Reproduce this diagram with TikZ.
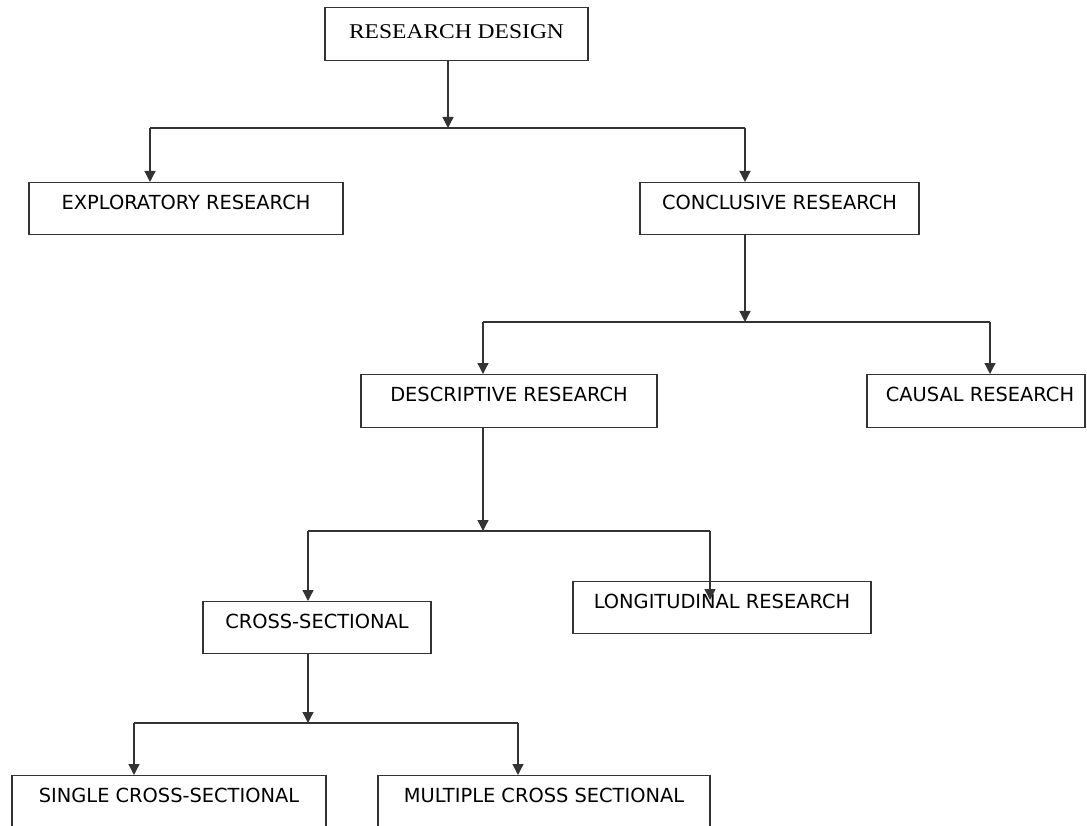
\documentclass[tikz,border=0pt]{standalone}
\usepackage{fontspec}
\usetikzlibrary{arrows.meta,calc}
\newfontfamily\vfont{DejaVu Sans}
\newfontfamily\serfont[FakeStretch=1.12]{Liberation Serif}
\begin{document}
\begin{tikzpicture}[x=1pt,y=-1pt,
  box/.style={draw=black!80, line width=1.3pt, inner sep=0pt, anchor=north,
     text height=27pt, text depth=25pt, font=\vfont\fontsize{19.4}{22}\selectfont},
  arr/.style={draw=black!80, line width=1.3pt, -{Triangle[width=11pt,length=11pt]}},
  ln/.style={draw=black!80, line width=1.3pt}]
\useasboundingbox (0,0) rectangle (1087,826);
\clip (0,0) rectangle (1087,826);
% boxes
\node[box, minimum width=263pt, text height=31pt, text depth=22pt,
      font=\serfont\fontsize{21}{24}\selectfont] (top) at (456.5,7) {RESEARCH DESIGN};
\node[box, minimum width=314pt] (expl) at (186,182) {EXPLORATORY RESEARCH};
\node[box, minimum width=279pt] (concl) at (779.5,182) {CONCLUSIVE RESEARCH};
\node[box, minimum width=296pt, text depth=26pt] (desc) at (509,374) {DESCRIPTIVE RESEARCH};
\node[box, minimum width=218pt, text depth=26pt] (caus) at (976,374) {\hspace{8pt}CAUSAL RESEARCH};
\node[box, minimum width=228pt] (cross) at (317,601) {CROSS-SECTIONAL};
\node[box, minimum width=298pt] (long) at (722,581) {LONGITUDINAL RESEARCH};
\node[box, minimum width=314pt, text depth=40pt] (single) at (169,775) {SINGLE CROSS-SECTIONAL\hspace{17pt}};
\node[box, minimum width=332pt, text depth=40pt] (mult) at (544,775) {MULTIPLE CROSS SECTIONAL\hspace{12pt}};
% junction coordinates
\coordinate (j1) at (448,128);
\coordinate (j1l) at (150,128);
\coordinate (j1r) at (745,128);
\coordinate (j2) at (745,322);
\coordinate (j2l) at (483,322);
\coordinate (j2r) at (990,322);
\coordinate (j3) at (483,531);
\coordinate (j3l) at (308,531);
\coordinate (j3r) at (710,531);
\coordinate (lt) at (710,600);
\coordinate (j4) at (308,723);
\coordinate (j4l) at (134,723);
\coordinate (j4r) at (518,723);
% connectors
\draw[arr] (top.south -| j1) -- (j1);
\draw[ln] (j1l) -- (j1r);
\draw[arr] (j1l) -- (j1l |- expl.north);
\draw[arr] (j1r) -- (j1r |- concl.north);
\draw[arr] (concl.south -| j2) -- (j2);
\draw[ln] (j2l) -- (j2r);
\draw[arr] (j2l) -- (j2l |- desc.north);
\draw[arr] (j2r) -- (j2r |- caus.north);
\draw[arr] (desc.south -| j3) -- (j3);
\draw[ln] (j3l) -- (j3r);
\draw[arr] (j3l) -- (j3l |- cross.north);
\draw[arr] (j3r) -- (lt);
\draw[arr] (cross.south -| j4) -- (j4);
\draw[ln] (j4l) -- (j4r);
\draw[arr] (j4l) -- (j4l |- single.north);
\draw[arr] (j4r) -- (j4r |- mult.north);
\end{tikzpicture}
\end{document}
